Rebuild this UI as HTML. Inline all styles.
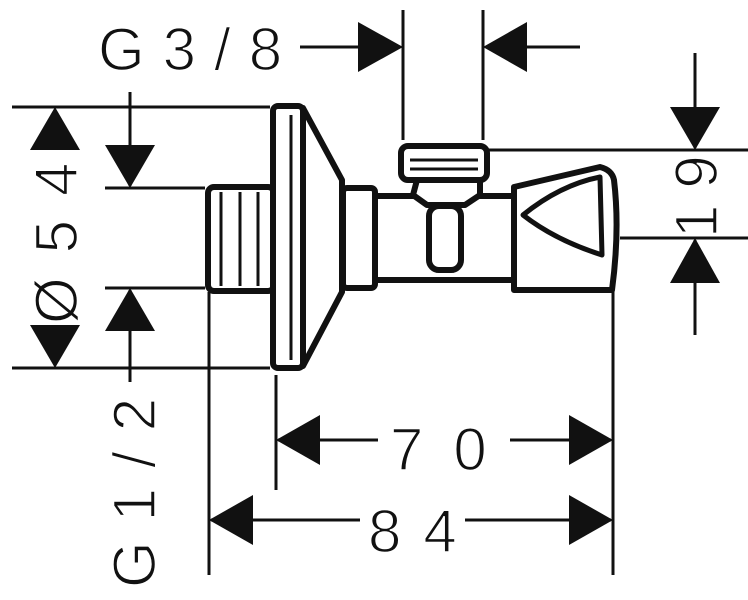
<!DOCTYPE html>
<html><head><style>html,body{margin:0;padding:0;background:#fff}svg{display:block}</style></head><body>
<svg width="748" height="600" viewBox="0 0 748 600" xmlns="http://www.w3.org/2000/svg">
<rect width="748" height="600" fill="#fff"/>
<g stroke="#111" stroke-width="3" fill="none">
<line x1="403" y1="10" x2="403" y2="140"/><line x1="483" y1="10" x2="483" y2="140"/>
<line x1="300" y1="47" x2="400" y2="47"/><line x1="486" y1="47" x2="580" y2="47"/>
<line x1="487" y1="150" x2="748" y2="150"/><line x1="620" y1="238" x2="748" y2="238"/>
<line x1="695" y1="53" x2="695" y2="148"/><line x1="695" y1="240" x2="695" y2="335"/>
<line x1="12" y1="107" x2="270" y2="107"/><line x1="12" y1="368" x2="270" y2="368"/>
<line x1="105" y1="188" x2="205" y2="188"/><line x1="105" y1="288" x2="205" y2="288"/>
<line x1="130" y1="92" x2="130" y2="186"/><line x1="130" y1="290" x2="130" y2="382"/>
<line x1="276" y1="375" x2="276" y2="490"/><line x1="613" y1="290" x2="613" y2="575"/>
<line x1="209" y1="292" x2="209" y2="575"/>
<line x1="278" y1="440" x2="378" y2="440"/><line x1="510" y1="440" x2="611" y2="440"/>
<line x1="211" y1="520" x2="360" y2="520"/><line x1="465" y1="520" x2="611" y2="520"/>
</g>
<g fill="#111">
<polygon points="403,47 358,22 358,72"/><polygon points="483,47 527,22 527,72"/>
<polygon points="695,150 670,107 720,107"/><polygon points="695,238 670,283 720,283"/>
<polygon points="55,107 30,150 80,150"/><polygon points="55,368 30,325 80,325"/>
<polygon points="130,188 105,145 155,145"/><polygon points="130,288 105,331 155,331"/>
<polygon points="276,440 320,415 320,465"/><polygon points="613,440 569,415 569,465"/>
<polygon points="209,520 253,495 253,545"/><polygon points="613,520 569,495 569,545"/>
</g>
<g stroke="#111" stroke-width="6" fill="#fff" stroke-linejoin="round">
<rect x="208" y="187" width="66" height="104" rx="6"/>
<path d="M303,108 L342,180 L342,292 L303,366 Z"/>
<rect x="273" y="106" width="30" height="262" rx="5"/>
<rect x="343" y="188" width="32" height="100" rx="4"/>
<rect x="375" y="196" width="141" height="84"/>
<path d="M417,180 L480,180 L480,195 L465,205 L427,205 L413,195 Z"/>
<rect x="401" y="146" width="86" height="34" rx="7"/>
<rect x="429" y="206" width="32" height="64" rx="10"/>
<path d="M514,187 L600,167 Q612,170 614,180 Q620,230 612,290 L514,290 Z"/>
<path d="M523,215 Q560,185 600,177 L602,255 Q555,240 523,215 Z" stroke-width="5"/>
</g>
<g stroke="#111" stroke-width="3">
<line x1="221" y1="192" x2="221" y2="286"/><line x1="240" y1="192" x2="240" y2="286"/><line x1="258" y1="192" x2="258" y2="286"/>
<line x1="291" y1="115" x2="291" y2="360"/>
<line x1="410" y1="160" x2="478" y2="160"/><line x1="410" y1="169" x2="478" y2="169"/>
</g>
<g font-family="'Liberation Sans',sans-serif" font-size="60" fill="#111" stroke="#fff" stroke-width="1.5">
<text x="98" y="70" letter-spacing="18">G3/8</text>
<text x="390" y="470" letter-spacing="30">70</text>
<text x="368" y="552" letter-spacing="22">84</text>
<text transform="translate(77,324) rotate(-90)" letter-spacing="24">Ø54</text>
<text transform="translate(155,588) rotate(-90)" letter-spacing="20">G1/2</text>
<text transform="translate(717,238) rotate(-90)" letter-spacing="16">19</text>
</g>
</svg>
</body></html>
